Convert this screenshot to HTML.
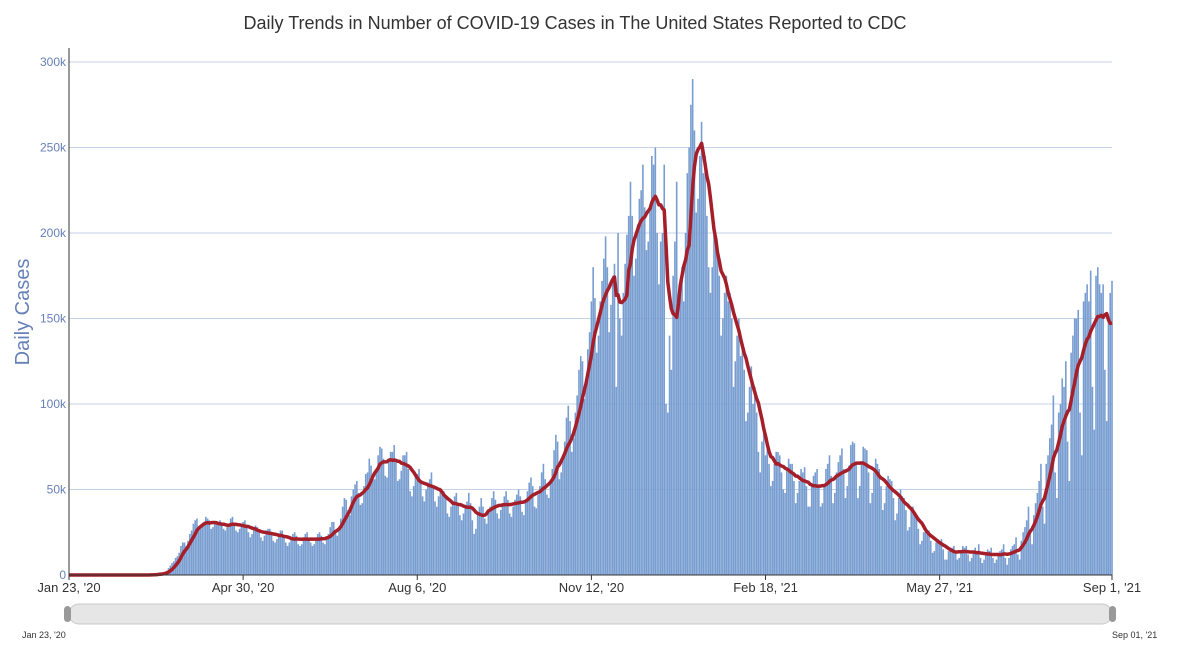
<!DOCTYPE html>
<html><head><meta charset="utf-8">
<style>
body{margin:0;background:#fff;font-family:"Liberation Sans",sans-serif;}
svg text{font-family:"Liberation Sans",sans-serif;}
</style></head>
<body>
<svg id="chart" width="1178" height="664" xmlns="http://www.w3.org/2000/svg">
<text x="575" y="29" text-anchor="middle" font-size="18" fill="#333">Daily Trends in Number of COVID-19 Cases in The United States Reported to CDC</text>
<text transform="translate(29,312) rotate(-90)" text-anchor="middle" font-size="20" fill="#6680b8">Daily Cases</text>
<g id="grid"></g><g id="bars"></g><g id="line"></g><g id="axes"></g>
<g>
<rect x="69" y="604" width="1043" height="20" rx="10" fill="#e6e6e6" stroke="#c8c8c8"/>
<rect x="64" y="606" width="7" height="16" rx="3.5" fill="#999"/>
<rect x="1109" y="606" width="7" height="16" rx="3.5" fill="#999"/>
<text x="22" y="638" font-size="9" fill="#333">Jan 23, '20</text>
<text x="1112" y="638" font-size="9" fill="#333">Sep 01, '21</text>
</g>
</svg>
<script>
const dailyCases = [
0,0,0,0,0,0,0, 0,0,0,0,0,0,0, 0,0,0,0,0,0,0, 0,0,0,0,0,0,0, 0,0,0,0,0,0,0, 0,0,0,0,0,0,0,
0,0,0.1,0.1,0.2,0.2,0.3, 0.5,0.6,0.8,1,1.3,1.8,2.5, 4,5.5,7,8,10,11,13, 17,19,19,17,20,24,26,
30,32,33,26,27,30,31, 34,33,32,27,28,30,30, 31,32,30,27,26,28,30, 33,34,30,26,25,27,29,
31,32,29,25,22,24,27, 29,28,26,22,20,23,26, 27,27,25,20,19,21,24, 26,26,22,19,17,19,21,
24,25,23,18,17,18,22, 24,25,22,19,17,18,22, 24,25,23,19,18,21,24, 28,31,31,25,23,27,33,
40,45,44,38,35,46,50, 53,55,48,41,42,52,59, 60,68,64,58,56,62,70, 75,74,68,58,57,68,72,
72,76,66,55,56,61,70, 70,72,62,49,46,52,58, 59,62,55,46,43,50,54, 56,60,52,43,40,46,51,
47,49,45,36,34,40,43, 46,48,42,35,32,36,41, 43,48,42,32,24,27,36, 40,45,40,33,30,38,40,
45,49,44,36,33,38,42, 46,49,44,36,34,40,44, 47,50,46,37,35,43,49, 54,57,52,40,39,47,52,
60,65,56,47,45,55,62, 73,82,78,56,60,70,78, 92,99,90,72,80,95,105, 120,128,125,103,110,132,142,
160,180,162,130,140,160,172, 185,198,180,142,158,175,182, 110,200,150,140,165,182,199, 210,230,210,175,185,205,220,
225,240,215,190,195,215,245, 240,250,200,170,195,200,240, 100,95,140,120,175,195,230, 155,170,180,160,200,235,250,
275,290,260,212,220,245,265, 235,245,210,180,165,180,200, 195,190,175,140,150,165,175, 160,165,150,110,125,140,150,
128,135,120,90,95,110,122, 100,110,95,72,60,78,85, 70,75,65,52,55,65,72, 72,70,60,50,48,62,68,
65,65,55,42,48,55,62, 60,63,52,40,40,52,58, 60,62,52,40,42,52,62, 65,70,58,42,48,60,66,
70,74,62,45,52,64,76, 78,77,66,45,52,65,75, 74,73,60,42,48,60,68, 65,62,52,38,42,52,58,
56,55,45,32,36,45,50, 46,45,38,26,28,38,40, 35,34,27,18,20,25,27, 25,26,20,13,14,19,21,
20,21,15,9,9,14,16, 16,17,13,9,10,14,17, 16,17,12,8,10,14,16, 14,18,10,7,9,13,15,
14,16,10,7,9,13,14, 15,18,10,6,10,15,17, 18,22,12,9,20,25,28, 32,40,25,18,35,42,48,
55,65,40,30,65,70,80, 88,105,60,45,95,100,115, 110,125,78,55,130,140,150, 150,155,95,70,160,165,170,
160,178,110,85,175,180,170, 165,170,120,90,150,165,172
];
const yTicks = [0,50,100,150,200,250,300];
const yTickLabels = ["0","50k","100k","150k","200k","250k","300k"];
const xTickIdx = [0,98,196,294,392,490,587];
const xTickLabels = ["Jan 23, '20","Apr 30, '20","Aug 6, '20","Nov 12, '20","Feb 18, '21","May 27, '21","Sep 1, '21"];

const NS="http://www.w3.org/2000/svg";
const X0=69,X1=1112,Y0=575,Y1=62;
const n=dailyCases.length;
const xs=i=>X0+i*(X1-X0)/(n-1);
const ys=v=>Y0-v*(Y0-Y1)/300;
function mk(tag,attrs,parent){const e=document.createElementNS(NS,tag);for(const k in attrs)e.setAttribute(k,attrs[k]);document.getElementById(parent).appendChild(e);return e;}

yTicks.forEach((t,i)=>{
  if(t>0){const g=mk('line',{x1:X0,x2:X1,y1:ys(t),y2:ys(t),stroke:'#c5d3e8','stroke-width':1},'grid');
  
  }
  const l=mk('text',{x:X0-3,y:ys(t)+4,'text-anchor':'end','font-size':12,fill:'#6680b8'},'axes');
  l.textContent=yTickLabels[i];
  
  
});
const bw=(X1-X0)/(n-1);
dailyCases.forEach((v,i)=>{
  if(v<=0)return;
  const b=mk('rect',{x:xs(i)-bw*0.45,y:ys(v),width:bw*0.9,height:Y0-ys(v),fill:'#789dd0'},'bars');
  
  
});
let pts=[];
for(let i=0;i<n;i++){let s=0,c=0;for(let j=Math.max(0,i-6);j<=i;j++){s+=dailyCases[j];c++;}pts.push(xs(i).toFixed(1)+','+ys(s/c).toFixed(1));}
const pl=mk('polyline',{points:pts.join(' '),fill:'none',stroke:'#a51f2a','stroke-width':3.5,'stroke-linejoin':'round'},'line');


const ax=mk('line',{x1:X0,x2:X0,y1:48,y2:Y0,stroke:'#333','stroke-width':1},'axes');


const bx=mk('line',{x1:X0,x2:X1,y1:Y0,y2:Y0,stroke:'#333','stroke-width':1},'axes');


xTickIdx.forEach((d,i)=>{
  const tk=mk('line',{x1:xs(d),x2:xs(d),y1:Y0,y2:Y0+5,stroke:'#333'},'axes');
  
  
  const t=mk('text',{x:xs(d),y:Y0+17,'text-anchor':'middle','font-size':13,fill:'#333'},'axes');
  t.textContent=xTickLabels[i];
  
  
});
</script>
</body></html>
